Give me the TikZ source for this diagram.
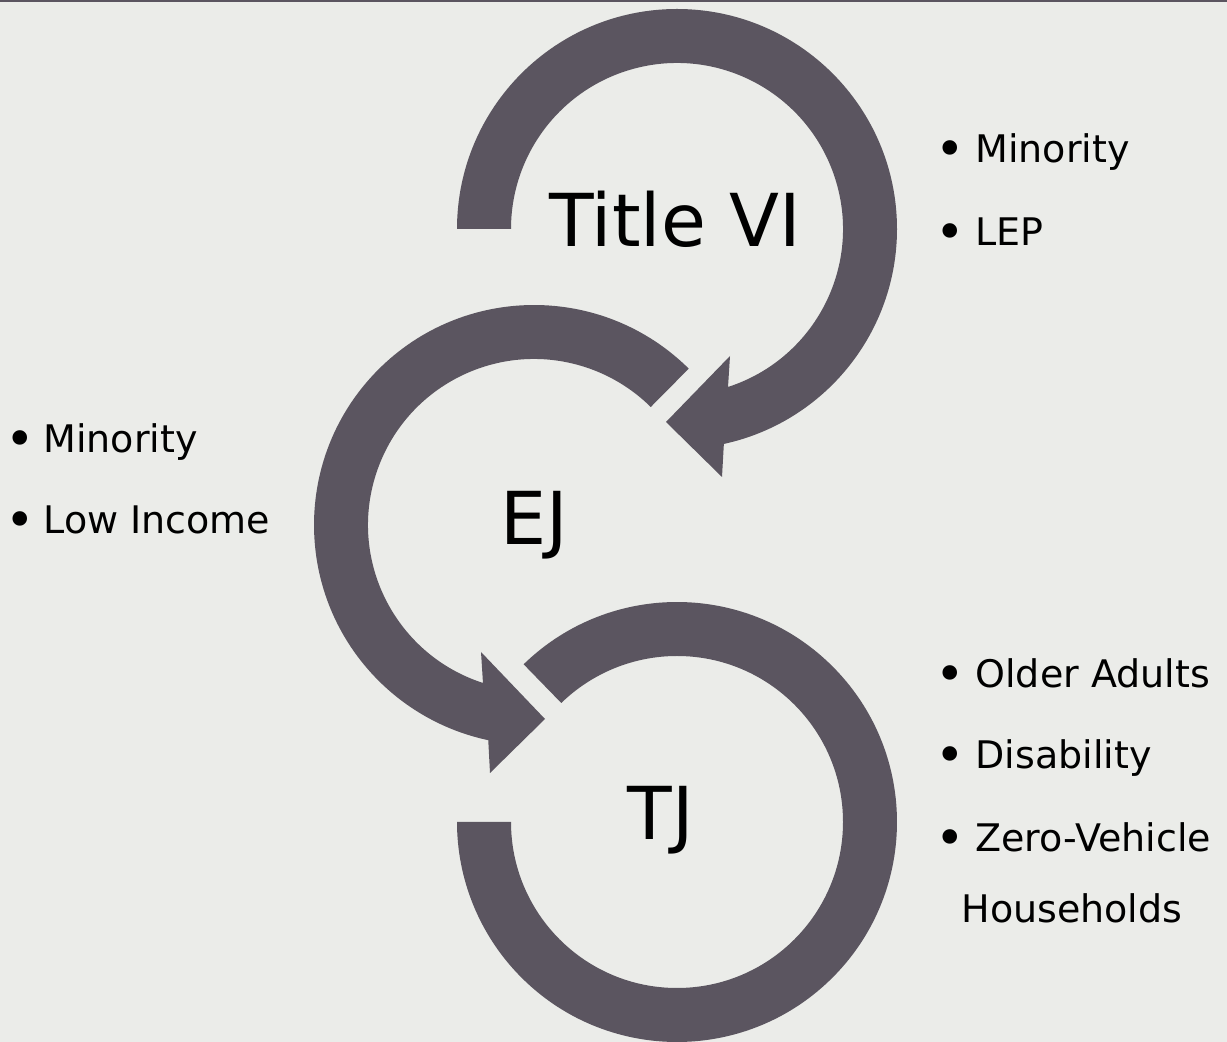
\documentclass[tikz,border=0pt]{standalone}
\usepackage{fontspec}
\setmainfont{DejaVu Sans}
\usetikzlibrary{calc}
\definecolor{arrowcol}{RGB}{91,85,96}
\definecolor{bgcol}{RGB}{235,236,233}
\newcommand{\bigbul}[1]{\makebox[#1][l]{\raisebox{-4pt}{\fontsize{50}{50}\selectfont •}}}
\begin{document}
\begin{tikzpicture}[x=1pt,y=1pt,
  band/.style={fill=arrowcol},
  bigtext/.style={font=\fontsize{73}{80}\selectfont, inner sep=0, anchor=base},
  bullettext/.style={font=\fontsize{38}{45}\selectfont, inner sep=0, anchor=base west}]
\fill[bgcol] (0,0) rectangle (1227,1042);
\useasboundingbox (0,0) rectangle (1227,1042);
\fill[arrowcol] (0,1040) rectangle (1227,1042);
\coordinate (T) at (677,813);
\coordinate (E) at (534,517);
\coordinate (J) at (677,220);
% Title VI arrow
\coordinate (tlb) at (722,565);
\coordinate (ttip) at (666,620);
\coordinate (tub) at (730,686);
\fill[band] ($(T)+(180:220)$) arc[start angle=180,end angle=-77.7,radius=220]
  -- (tlb) -- (ttip) -- (tub) -- ($(T)+(-72.1:166)$)
  arc[start angle=-72.1,end angle=180,radius=166] -- cycle;
% EJ arrow
\coordinate (elb) at (490,269);
\coordinate (etip) at (545,323);
\coordinate (eub) at (481,390);
\fill[band] ($(E)+(45.3:220)$) arc[start angle=45.3,end angle=258,radius=220]
  -- (elb) -- (etip) -- (eub) -- ($(E)+(252.1:166)$)
  arc[start angle=252.1,end angle=45.3,radius=166] -- cycle;
% TJ arrow
\fill[band] ($(J)+(134.2:220)$) arc[start angle=134.2,end angle=-180,radius=220]
  -- ($(J)+(180:166)$) arc[start angle=-180,end angle=134.2,radius=166] -- cycle;
% big labels
\node[bigtext] (tvi) at (675,795) {Title VI};
\node[bigtext] (ej) at (534,497) {EJ};
\node[bigtext] (tj) at (661,202) {TJ};
% left bullets
\node[bullettext] (l1) at (5.5,589) {\bigbul{37.8pt}Minority};
\node[bullettext] (l2) at (5.5,508) {\bigbul{37.8pt}Low Income};
% right top bullets
\node[bullettext] (r1) at (935.5,879) {\bigbul{39.8pt}Minority};
\node[bullettext] (r2) at (935.5,796) {\bigbul{39.8pt}LEP};
% right bottom bullets
\node[bullettext] (b1) at (935.5,354) {\bigbul{39.8pt}Older Adults};
\node[bullettext] (b2) at (935.5,273) {\bigbul{39.8pt}Disability};
\node[bullettext] (b3) at (935.5,190) {\bigbul{39.8pt}Zero-Vehicle};
\node[bullettext] (b4) at (961.3,119) {Households};
\end{tikzpicture}
\end{document}
